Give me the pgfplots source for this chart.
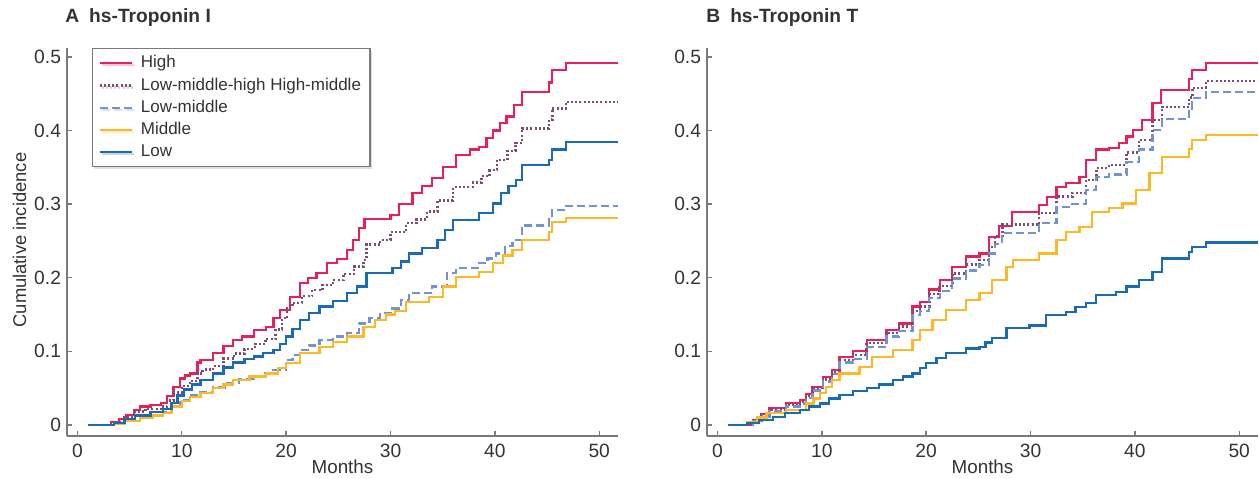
\documentclass[border=0pt]{standalone}
\usepackage{fontspec}
\setmainfont{Liberation Sans}
\usepackage{pgfplots}
\pgfplotsset{compat=1.18}
\usetikzlibrary{shadows}

\definecolor{cHigh}{HTML}{E8205A}
\definecolor{cHM}{HTML}{7D4B73}
\definecolor{cLM}{HTML}{7193D1}
\definecolor{cMid}{HTML}{FDB827}
\definecolor{cLow}{HTML}{1A6BB5}
\definecolor{spine}{HTML}{7A7A7A}
\definecolor{txt}{HTML}{333333}

\pgfplotsset{
  km/.style={
    scale only axis, width=275.5pt, height=194pt,
    xmin=-1, xmax=51.8, ymin=-0.015, ymax=0.512,
    axis lines=left,
    axis line style={-, spine, line width=0.8pt},
    tick style={spine, line width=0.7pt},
    tick align=inside, major tick length=2.5pt,
    xtick={0,10,20,30,40,50},
    ytick={0,0.1,0.2,0.3,0.4,0.5},
    /pgf/number format/assume math mode=true,
    ticklabel style={font=\fontsize{9.6}{11}\selectfont, text=txt},
    xticklabel style={yshift=-0.5pt},
    yticklabel style={xshift=0.5pt},
    xlabel={Months},
    xlabel style={font=\fontsize{9.4}{11}\selectfont, text=txt, at={(axis description cs:0.5,-0.08)}, anchor=center},
    every axis plot/.append style={const plot, no marks},
  },
  high/.style={cHigh, line width=1.15pt},
  hm/.style={cHM, line width=1.25pt, dash pattern=on 1pt off 1.1pt},
  lm/.style={cLM, line width=1.15pt, dash pattern=on 4pt off 2pt},
  mid/.style={cMid, line width=1.15pt},
  low/.style={cLow, line width=1.15pt},
}

\begin{document}
\begin{tikzpicture}
\path[use as bounding box] (0,0) rectangle (629.5pt,-239pt);

\begin{axis}[km, at={(33.5pt,-218pt)}, anchor=south west,
    ylabel={Cumulative incidence},
    ylabel style={font=\fontsize{9.2}{11}\selectfont, text=txt, at={(axis description cs:-0.086,0.505)}, anchor=center, rotate=0},
    legend style={at={(rel axis cs:0.045,1)}, anchor=north west,
      draw=spine, line width=0.6pt, fill=white,
      font=\fontsize{8.5}{10}\selectfont, text=txt,
      nodes={inner xsep=1.5pt, inner ysep=1.5pt, text height=6.3pt, text depth=1.8pt},
      row sep=0pt, column sep=2.5pt, inner xsep=3pt, inner ysep=1.8pt,
      drop shadow={opacity=0.25, shadow xshift=1pt, shadow yshift=-1pt}},
    legend cell align=left,
    legend image code/.code={\draw[#1, const plot=false] (0pt,0pt) -- (16pt,0pt);},
]
\addplot[high] coordinates {
(1,0)(3,0)(3.2,0.004)(4,0.008)(4.7,0.014)(5.4,0.02)(6,0.025)(7,0.027)(8,0.03)(8.6,0.039)(9.2,0.052)(9.8,0.063)(10.3,0.067)(10.8,0.07)(11.5,0.085)(11.8,0.088)(13,0.098)(14,0.107)(14.9,0.115)(15.8,0.12)(16.9,0.129)(18.1,0.133)(18.8,0.145)(19.4,0.156)(20.4,0.174)(21.3,0.193)(22.1,0.2)(22.9,0.206)(23.9,0.22)(24.9,0.225)(25.8,0.238)(26.4,0.251)(27,0.268)(27.5,0.28)(30,0.285)(30.8,0.3)(32.1,0.315)(33,0.325)(34,0.335)(35,0.35)(36.3,0.367)(37.6,0.374)(38.5,0.378)(39.2,0.39)(39.8,0.4)(40.5,0.41)(41.1,0.419)(41.8,0.435)(42.6,0.452)(45.2,0.465)(45.5,0.482)(46.8,0.492)(51.8,0.492)
};
\addlegendentry{High}
\addplot[hm] coordinates {
(1,0)(3,0)(3.5,0.004)(4.5,0.01)(5.5,0.018)(6.5,0.022)(8,0.025)(8.6,0.033)(9.2,0.044)(10,0.053)(10.8,0.06)(11.5,0.07)(12,0.075)(13,0.08)(14,0.09)(15,0.097)(16,0.103)(17,0.11)(18,0.117)(19,0.13)(19.6,0.145)(20.1,0.16)(20.6,0.166)(21.5,0.175)(22.5,0.183)(23.5,0.19)(24.5,0.197)(25.5,0.205)(26.5,0.215)(27.4,0.224)(27.7,0.245)(29,0.251)(30,0.262)(31.5,0.274)(32.5,0.279)(33.5,0.29)(34.5,0.305)(36,0.323)(37.9,0.329)(38.7,0.338)(39.5,0.346)(40.2,0.36)(41.2,0.372)(42,0.383)(42.6,0.403)(45.2,0.415)(45.5,0.43)(46.8,0.439)(51.8,0.439)
};
\addlegendentry{Low-middle-high High-middle}
\addplot[lm] coordinates {
(1,0)(3,0)(3.5,0.002)(4.5,0.006)(5.5,0.011)(7,0.014)(8.2,0.018)(9,0.026)(9.8,0.034)(10.8,0.04)(11.8,0.045)(13,0.051)(14.3,0.057)(15.5,0.062)(16.9,0.066)(18,0.07)(18.8,0.075)(20,0.088)(20.6,0.095)(21.3,0.102)(22.2,0.108)(23.2,0.115)(24.5,0.12)(25.8,0.125)(27,0.138)(28,0.145)(29,0.152)(30.2,0.158)(31,0.17)(31.8,0.179)(34,0.188)(35.4,0.206)(36.3,0.213)(38.5,0.22)(39.3,0.226)(40.1,0.233)(41,0.243)(41.7,0.251)(42.6,0.271)(45.2,0.28)(45.5,0.292)(46.8,0.297)(51.8,0.297)
};
\addlegendentry{Low-middle}
\addplot[mid] coordinates {
(1,0)(3,0)(3.5,0.002)(4.5,0.005)(6,0.01)(7.2,0.013)(8.2,0.016)(9,0.025)(10,0.033)(10.8,0.038)(11.8,0.043)(13,0.05)(14,0.055)(14.9,0.061)(16.5,0.066)(18.1,0.07)(19.2,0.077)(20,0.084)(21.3,0.098)(23.2,0.106)(24.5,0.113)(25.8,0.12)(27.4,0.133)(28.5,0.143)(29.6,0.15)(30.4,0.155)(31.5,0.167)(33.7,0.174)(35,0.188)(36.3,0.201)(38.5,0.208)(39.8,0.22)(40.8,0.23)(41.7,0.238)(42.6,0.251)(45.2,0.262)(45.5,0.276)(46.8,0.281)(51.8,0.281)
};
\addlegendentry{Middle}
\addplot[low] coordinates {
(1,0)(3,0)(3.5,0.003)(4.5,0.008)(5.5,0.013)(7,0.018)(8.2,0.022)(9,0.03)(9.6,0.04)(10.2,0.048)(11,0.055)(11.8,0.061)(13,0.07)(14,0.078)(14.9,0.085)(16,0.09)(16.9,0.093)(17.8,0.098)(18.8,0.102)(19.4,0.11)(20,0.12)(20.6,0.13)(21.3,0.143)(22.2,0.152)(23.2,0.161)(24.5,0.168)(25.8,0.179)(26.8,0.188)(27.7,0.206)(30.2,0.213)(31,0.222)(31.8,0.233)(33,0.24)(34.5,0.251)(35.2,0.265)(36,0.278)(38.5,0.288)(39.8,0.301)(40.6,0.315)(41.3,0.325)(42,0.333)(42.6,0.353)(45.2,0.36)(45.5,0.374)(46.8,0.384)(51.8,0.384)
};
\addlegendentry{Low}
\end{axis}

\begin{axis}[km, at={(353.5pt,-218pt)}, anchor=south west]
\addplot[high] coordinates {
(1,0)(3,0)(3.4,0.007)(4.2,0.015)(5,0.023)(6.6,0.03)(7.9,0.034)(8.5,0.042)(9.1,0.052)(10.1,0.065)(11,0.075)(11.7,0.092)(13,0.1)(14.3,0.115)(16.2,0.129)(17.4,0.138)(18.7,0.161)(19.4,0.167)(20.3,0.184)(21.3,0.197)(22.5,0.215)(23.8,0.229)(25.1,0.233)(26,0.255)(27,0.27)(28.2,0.289)(30.8,0.299)(31.6,0.31)(32.5,0.323)(33.4,0.329)(34.7,0.337)(35.3,0.36)(36.3,0.374)(37.5,0.376)(38.5,0.383)(39.2,0.392)(39.8,0.401)(40.7,0.414)(41.7,0.437)(42.5,0.455)(45.2,0.47)(45.5,0.482)(46.8,0.492)(51.8,0.492)
};
\addplot[hm] coordinates {
(1,0)(3,0)(3.4,0.006)(4.2,0.013)(5,0.021)(6.6,0.027)(7.9,0.031)(8.5,0.04)(9.1,0.05)(10.1,0.062)(11,0.072)(11.7,0.088)(13,0.095)(14.3,0.111)(16.2,0.125)(17.4,0.134)(18.7,0.155)(19.4,0.161)(20.3,0.178)(21.3,0.189)(22.5,0.206)(23.8,0.218)(25.1,0.224)(26,0.242)(26.6,0.257)(27.3,0.272)(30.8,0.288)(32.5,0.31)(34,0.315)(35.3,0.333)(36.3,0.349)(37.5,0.353)(39.2,0.37)(40.4,0.387)(41.7,0.414)(42.6,0.432)(45.2,0.445)(45.5,0.458)(46.8,0.467)(51.8,0.467)
};
\addplot[lm] coordinates {
(1,0)(3,0)(3.4,0.005)(4.2,0.011)(5,0.019)(6.6,0.025)(7.9,0.029)(8.5,0.037)(9.1,0.047)(10.1,0.059)(11,0.069)(11.7,0.085)(13,0.09)(14.3,0.106)(16.2,0.12)(17.4,0.128)(18.7,0.149)(19.4,0.155)(20.3,0.172)(21.3,0.182)(22.5,0.199)(23.8,0.21)(25.1,0.217)(26,0.233)(26.6,0.246)(27.3,0.261)(30.8,0.274)(32.5,0.296)(34,0.3)(35.3,0.319)(36.3,0.337)(37.5,0.34)(39.2,0.357)(40.4,0.374)(41.7,0.401)(42.6,0.416)(45.2,0.43)(45.5,0.444)(46.8,0.452)(51.8,0.452)
};
\addplot[mid] coordinates {
(1,0)(2.8,0.004)(3.8,0.01)(4.7,0.016)(6.6,0.02)(8.5,0.029)(9.2,0.036)(9.8,0.043)(10.4,0.052)(11,0.061)(11.7,0.07)(13.6,0.079)(14.8,0.092)(16.8,0.102)(18.7,0.115)(19.4,0.129)(20.6,0.143)(21.9,0.156)(23.8,0.17)(25.1,0.179)(26.3,0.197)(27.7,0.215)(28.3,0.224)(30.8,0.233)(32.5,0.251)(33.4,0.262)(34.7,0.269)(35.9,0.289)(37.5,0.295)(38.8,0.301)(40.1,0.319)(41.4,0.342)(42.6,0.364)(45.2,0.375)(45.5,0.387)(46.8,0.394)(51.8,0.394)
};
\addplot[low] coordinates {
(1,0)(2.8,0.003)(4,0.007)(5.3,0.011)(6.5,0.016)(7.9,0.02)(8.8,0.025)(9.8,0.029)(10.7,0.036)(11.7,0.041)(13,0.046)(14.3,0.05)(15.5,0.055)(16.8,0.061)(17.8,0.066)(18.7,0.07)(19.4,0.077)(20,0.084)(21,0.091)(21.9,0.098)(23.8,0.104)(25.1,0.106)(25.7,0.112)(26.3,0.118)(27.7,0.132)(29.9,0.135)(31.5,0.149)(33.4,0.153)(34.3,0.16)(35.3,0.166)(36.3,0.177)(38.2,0.181)(39.2,0.188)(40.4,0.197)(41.7,0.208)(42.6,0.226)(45.2,0.235)(45.5,0.242)(46.8,0.248)(51.8,0.248)
};
\end{axis}

\node[anchor=west, inner sep=0pt, font=\fontsize{9.6}{11}\selectfont\bfseries, text=txt] at (32.5pt,-9pt) {A\hspace{5pt}hs-Troponin I};
\node[anchor=west, inner sep=0pt, font=\fontsize{9.6}{11}\selectfont\bfseries, text=txt] at (353pt,-9pt) {B\hspace{5pt}hs-Troponin T};
\end{tikzpicture}
\end{document}
